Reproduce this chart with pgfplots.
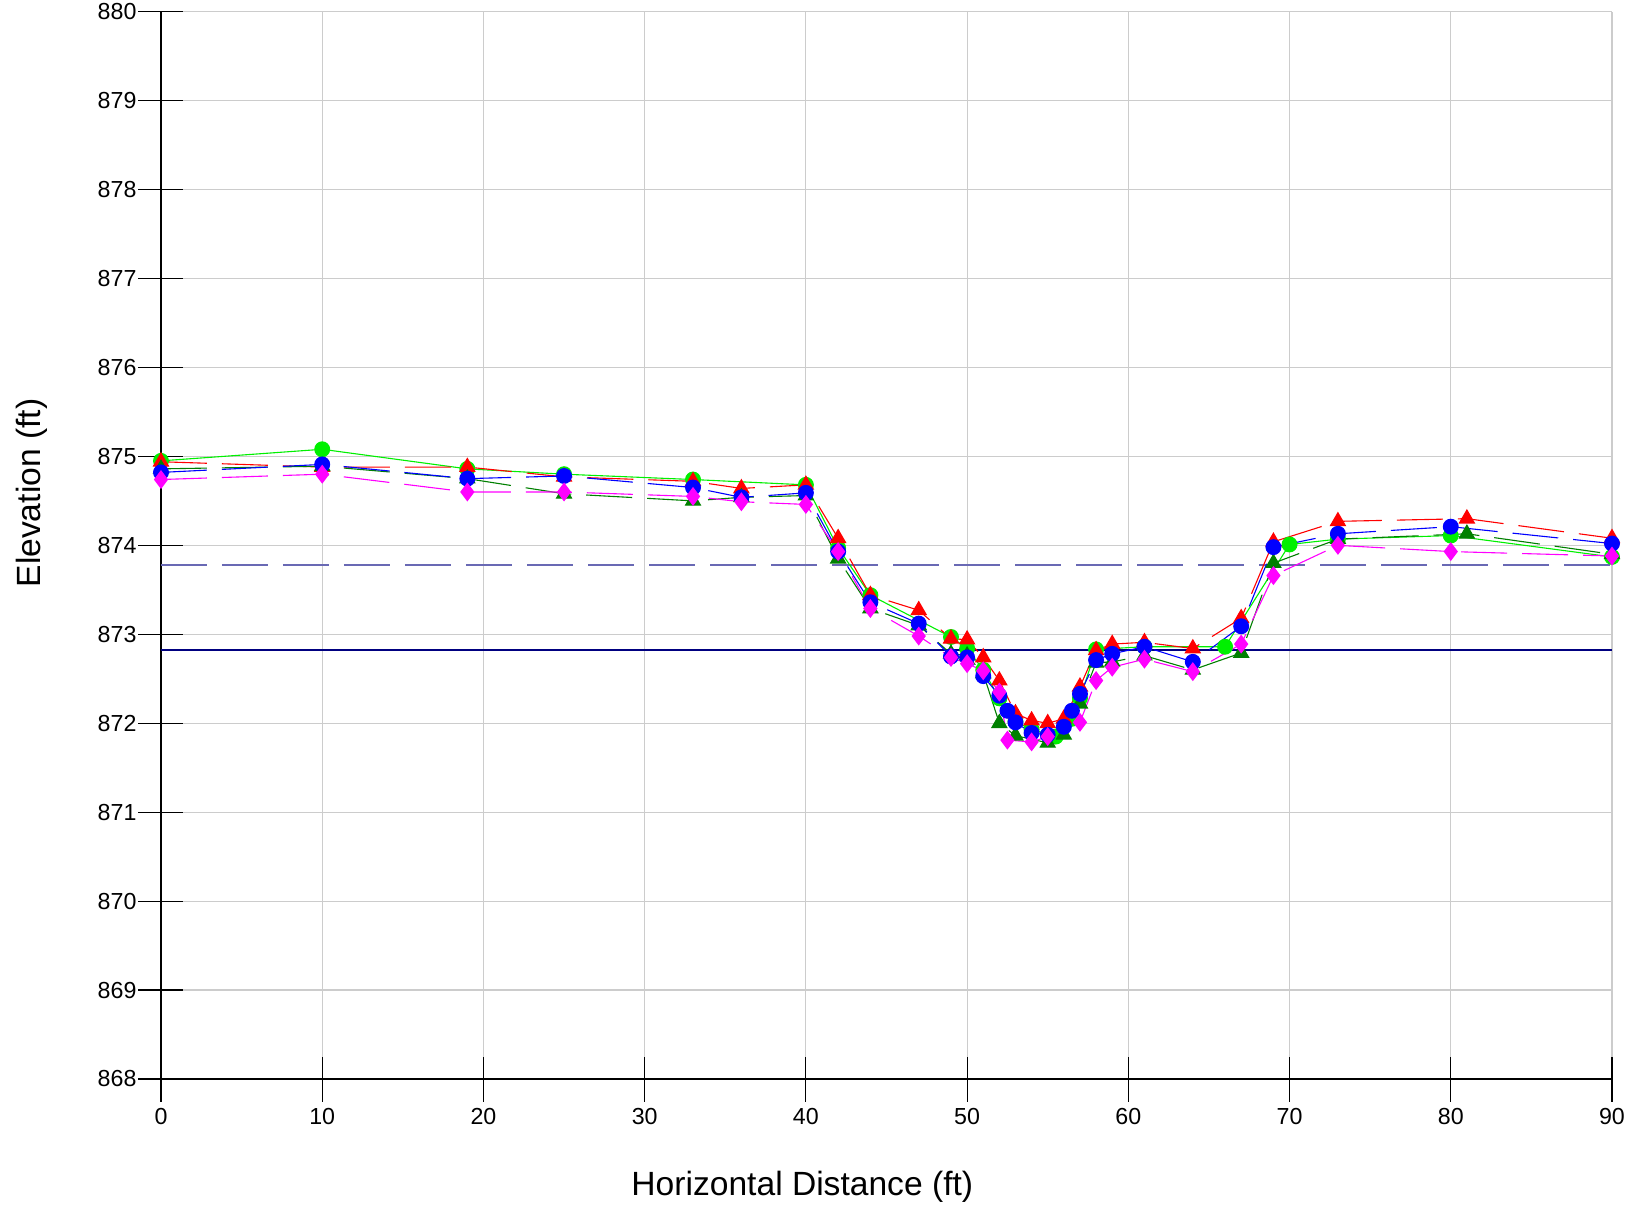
\documentclass[border=0pt]{standalone}
\usepackage{fontspec}
\setmainfont{Liberation Sans}
\usepackage{pgfplots}
\pgfplotsset{compat=1.18}

\definecolor{refline}{RGB}{105,105,180}
\definecolor{navyline}{RGB}{0,0,128}
\definecolor{dkgreen}{RGB}{0,128,0}
\definecolor{ltgreen}{RGB}{0,240,0}
\definecolor{mag}{RGB}{255,0,255}
\definecolor{gridgray}{RGB}{204,204,204}

\begin{document}
\begin{tikzpicture}
\begin{axis}[
  scale only axis,
  width=725.5pt, height=533.65pt,
  xmin=0, xmax=90, ymin=868, ymax=880,
  xtick={0,10,...,90}, ytick={868,869,...,880},
  axis x line=bottom, axis y line=left,
  axis line style={-, black, line width=0.6pt},
  tick align=center, major tick length=22.5pt,
  tick style={black, line width=0.6pt},
  grid=major, grid style={gridgray, line width=0.6pt},
  /pgf/number format/assume math mode=true,
  /pgf/number format/set thousands separator={},
  tick label style={font=\fontsize{11.6}{13}\selectfont},
  yticklabel style={xshift=2.5pt},
  xlabel={Horizontal Distance (ft)}, ylabel={Elevation (ft)},
  label style={font=\fontsize{16.8}{20}\selectfont},
  xlabel style={at={(axis description cs:0.442,-0.101)}, anchor=center},
  ylabel style={at={(axis description cs:-0.089,0.549)}, anchor=center, rotate=0},
  every axis plot/.append style={line width=0.55pt},
]
\addplot[refline, line width=0.8pt, dash pattern=on 23pt off 7.5pt] coordinates {(0,873.78) (90,873.78)};
\addplot[navyline, line width=0.9pt] coordinates {(0,872.82) (90,872.82)};

% bright green circles, solid
\addplot[ltgreen, mark=*, mark size=3.7pt, mark options={solid, fill=ltgreen, draw=ltgreen}] coordinates {
(0,874.95) (10,875.08) (19,874.86) (25,874.80) (33,874.74) (40,874.68) (42,873.97) (44,873.44)
(49,872.97) (50,872.84) (51,872.60) (52,872.28) (53,872.02) (54,871.93) (55.5,871.85) (56.5,872.05)
(57,872.28) (58,872.83) (61,872.86) (66,872.86) (70,874.01) (73,874.07) (80,874.11) (90,873.87)};

% red triangles, dashed
\addplot[red, dash pattern=on 23pt off 7.5pt, mark=triangle*, mark size=4.3pt, mark options={solid, fill=red, draw=red}] coordinates {
(0,874.94) (10,874.88) (19,874.88) (25,874.77) (33,874.72) (36,874.64) (40,874.68) (42,874.08)
(44,873.44) (47,873.27) (49,872.95) (50,872.94) (51,872.74) (52,872.48) (53,872.11) (54,872.03)
(55,872.00) (56,872.05) (57,872.41) (58,872.82) (59,872.89) (61,872.91) (64,872.84) (67,873.18)
(69,874.04) (73,874.27) (81,874.30) (90,874.08)};

% dark green triangles, dashed
\addplot[dkgreen, dash pattern=on 23pt off 7.5pt, mark=triangle*, mark size=4.3pt, mark options={solid, fill=dkgreen, draw=dkgreen}] coordinates {
(0,874.86) (10,874.89) (19,874.75) (25,874.58) (33,874.50) (36,874.54) (40,874.56) (42,873.85)
(44,873.29) (47,873.10) (49,872.78) (50,872.76) (51,872.56) (52,872.00) (53,871.86) (55,871.78)
(56,871.87) (57,872.22) (58,872.68) (59,872.69) (61,872.76) (64,872.60) (67,872.79) (69,873.80)
(73,874.07) (81,874.13) (90,873.90)};

% blue circles, dashed
\addplot[blue, dash pattern=on 23pt off 7.5pt, mark=*, mark size=3.7pt, mark options={solid, fill=blue, draw=blue}] coordinates {
(0,874.82) (10,874.91) (19,874.75) (25,874.78) (33,874.65) (36,874.54) (40,874.59) (42,873.93)
(44,873.36) (47,873.12) (49,872.75) (50,872.74) (51,872.53) (52,872.31) (52.5,872.14) (53,872.01)
(54,871.89) (55,871.87) (56,871.96) (56.5,872.14) (57,872.33) (58,872.71) (59,872.78) (61,872.86)
(64,872.69) (67,873.09) (69,873.98) (73,874.13) (80,874.21) (90,874.02)};

% magenta diamonds, dashed
\addplot[mag, dash pattern=on 23pt off 7.5pt, mark=diamond*, mark size=4.3pt, mark options={solid, fill=mag, draw=mag}] coordinates {
(0,874.74) (10,874.80) (19,874.60) (25,874.60) (33,874.55) (36,874.49) (40,874.46) (42,873.93)
(44,873.29) (47,872.98) (49,872.74) (50,872.67) (51,872.59) (52,872.35) (52.5,871.81) (54,871.79)
(55,871.85) (57,872.01) (58,872.48) (59,872.63) (61,872.72) (64,872.58) (67,872.89) (69,873.66)
(73,874.00) (80,873.93) (90,873.88)};
\end{axis}
\pgfresetboundingbox
\path (-80.5pt,-64pt) rectangle (739.5pt,539.5pt);
\end{tikzpicture}
\end{document}
